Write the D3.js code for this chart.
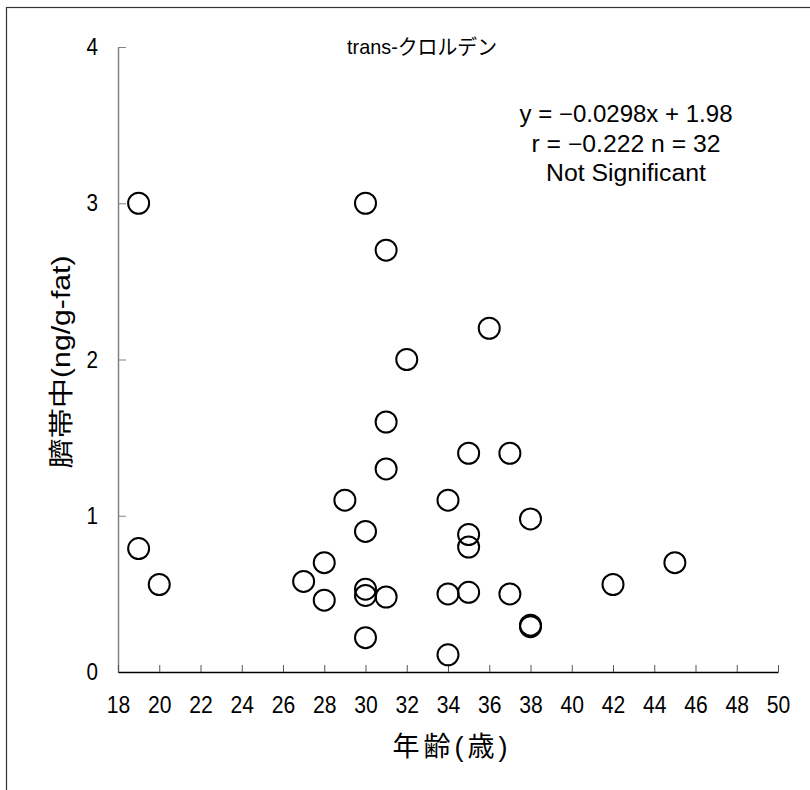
<!DOCTYPE html>
<html><head><meta charset="utf-8">
<script src="https://cdn.jsdelivr.net/npm/d3@7"></script>
<style>
html,body{margin:0;padding:0;background:#fff;}
text{font-family:"Liberation Sans","Noto Sans CJK JP",sans-serif;fill:#000;}
</style></head>
<body>
<svg id="chart" width="810" height="790"></svg>
<script>
const ages = [19,19,20,27,28,28,29,30,30,30,30,30,31,31,31,31,32,34,34,34,35,35,35,35,36,37,37,38,38,38,42,45];
const values = [3.0,0.79,0.56,0.58,0.70,0.46,1.1,3.0,0.9,0.53,0.49,0.22,2.7,1.6,1.3,0.48,2.0,1.1,0.50,0.11,1.4,0.88,0.80,0.51,2.2,1.4,0.50,0.98,0.30,0.29,0.56,0.70];
const xTicks = d3.range(18, 51, 2);
const yTicks = [0,1,2,3,4];
const title = "trans-クロルデン";
const statLines = ["y = −0.0298x + 1.98", "r = −0.222 n = 32", "Not Significant"];
const xLabel = "年齢(歳)";
const yLabel = "臍帯中(ng/g-fat)";

// text widths (style only)
const statWidths = [213, 189, 160];

const svg = d3.select("#chart");
svg.append("rect").attr("x",6.5).attr("y",7.5).attr("width",900).attr("height",900)
  .attr("fill","none").attr("stroke","#333").attr("stroke-width",1.2);

const x = d3.scaleLinear().domain([18,50]).range([118,778]);
const y = d3.scaleLinear().domain([0,4]).range([672,47]);

const yAxis = svg.append("g").attr("transform","translate(118,0)")
  .call(d3.axisLeft(y).tickValues(yTicks).tickFormat(d3.format("d")).tickSizeInner(-8).tickSizeOuter(0).tickPadding(20));
yAxis.select(".domain").attr("stroke","#808080").attr("stroke-width",1.5);
yAxis.selectAll(".tick line").attr("stroke","#808080");
yAxis.selectAll("text").style("font-size","24px").attr("textLength",11.5).attr("lengthAdjust","spacingAndGlyphs");

const xAxis = svg.append("g").attr("transform","translate(0,672)")
  .call(d3.axisBottom(x).tickValues(xTicks).tickFormat(d3.format("d")).tickSizeInner(-7).tickSizeOuter(0).tickPadding(25));
xAxis.select(".domain").attr("stroke","#000").attr("stroke-width",1.5);
xAxis.selectAll(".tick line").attr("stroke","#555");
xAxis.selectAll("text").style("font-size","24px").attr("dy","0.68em").attr("textLength",23.5).attr("lengthAdjust","spacingAndGlyphs");

svg.append("g").selectAll("circle").data(ages.map((a,i)=>[a,values[i]])).join("circle")
  .attr("cx",d=>x(d[0])).attr("cy",d=>y(d[1])).attr("r",10.5)
  .attr("fill","none").attr("stroke","#000").attr("stroke-width",2);

svg.append("text").attr("x",422).attr("y",54).attr("text-anchor","middle")
  .style("font-size","21px").attr("textLength",150).attr("lengthAdjust","spacingAndGlyphs").text(title);

svg.append("g").selectAll("text").data(statLines).join("text")
  .attr("x",626).attr("y",(d,i)=>122+i*29.5).attr("text-anchor","middle")
  .style("font-size","23px").attr("textLength",(d,i)=>statWidths[i]).attr("lengthAdjust","spacingAndGlyphs").text(d=>d);

svg.append("text").attr("x",450).attr("y",756).attr("text-anchor","middle")
  .style("font-size","27px").attr("textLength",115).attr("lengthAdjust","spacing").text(xLabel);

svg.append("text").attr("transform","translate(70,362) rotate(-90)").attr("text-anchor","middle")
  .style("font-size","25px").attr("textLength",213).attr("lengthAdjust","spacingAndGlyphs").text(yLabel);
</script>
</body></html>
